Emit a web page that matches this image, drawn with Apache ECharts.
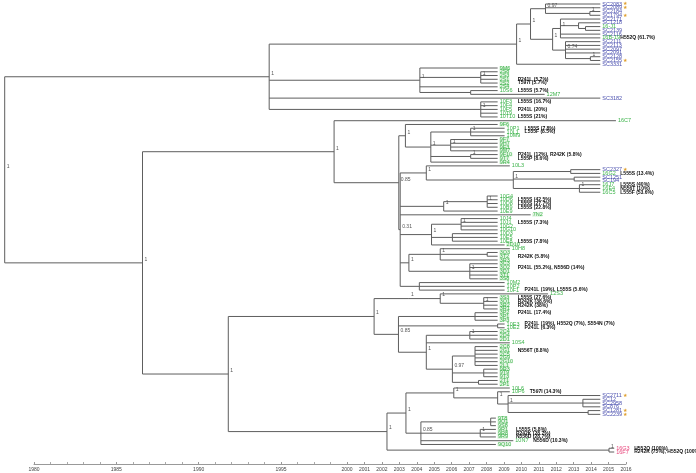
<!DOCTYPE html>
<html><head><meta charset="utf-8">
<script src="https://cdn.jsdelivr.net/npm/echarts@6/dist/echarts.min.js"></script>
<style>html,body{margin:0;padding:0;background:#fff}#c{width:696px;height:473px}</style>
</head><body><div id="c"></div>
<script>
// ---- DATA ----
// Newick-like tree: tip@year, (children)@nodeYear#support
const treeNewick =
"(" +
 "(" +
  "(" +
   "(" +
    "(SC2083@2014.5,SC2089@2014.5,(SC2184@2014.5,SC1794@2014.5)@2013.9#1)@2011.35#0.97," +
    "((SC2171@2014.5,(SC1218@2014.5,(16-J1@2014.5,SC2139@2014.5)@2013.65)@2013.25,SC2116@2014.5,16B-19@2014.5)@2012.21#1," +
     "(SC2111@2014.5,SC2113@2014.5,SC2097@2014.5,SC2091@2014.5,(SC2128@2014.5,SC2155@2014.5)@2013.93#1)@2012.5#0.74)@2011.76#1" +
   ")@2010.49#1," +
   "SC3331@2014.5" +
  ")@2009.69#1," +
  "(9M6@2008.6,(2S8@2008.6,2S3@2008.6,2S1@2008.6,2S2@2008.6)@2007.63#1,2S4@2008.6,(10S6@2008.6,12M7@2011.3)@2007.05)@2004.13#1," +
  "SC3182@2014.5," +
  "(10F3@2008.6,10F4@2008.6,10F5@2008.6,10T9@2008.6,10T10@2008.6)@2007.63#1" +
 ")@1995.47#1," +
 "(" +
  "(16C7@2015.4," +
   "(" +
    "(9F6@2008.6,((10P1@2009.0,10L1@2009.0,10M9@2009.0)@2007.05#1,(9F7@2008.6,9H7@2008.6,9E3@2008.6,9M7@2008.6)@2005.9#1,(9F10@2008.6,9T7@2008.6)@2007.05#1,9R4@2008.6)@2004.76#1)@2003.3#1," +
    "(" +
     "(10L3@2009.3,((SC2327@2014.5,16G2@2014.5)@2012.8,(SC1251@2014.5,SC194@2014.5)@2013.0,(16J7@2014.5,16E4@2014.5,16C5@2014.5)@2013.3#1)@2009.5#1)@2004.5#1," +
     "((10G4@2008.6,10D6@2008.6,10D8@2008.6,10B9@2008.6)@2008.0#1,10E9@2008.6)@2005.5#1," +
     "7N2@2010.5," +
     "((10J4@2008.6,10J1@2008.6,10G2@2008.6,10G10@2008.6)@2006.5#1,(10D3@2008.6,10E5@2008.6,10E8@2008.6)@2006.0,2D10@2009.0)@2004.8#1," +
     "((10H8@2009.3,(3Q3@2008.6,3T2@2008.6)@2008.0,3R3@2008.6)@2005.3#1,(3C3@2008.6,3Q2@2008.6,3D1@2008.6,3T1@2008.6,3S8@2008.6)@2007.0#1)@2003.5#1," +
     "(10M2@2009.0,10P2@2009.0,10F1@2009.0)@2004.1" +
    ")@2003.0#0.31" +
   ")@2002.92#0.85" +
  ")@1999.2#1," +
  "(" +
   "(" +
    "((12S3@2011.5,(3S3@2008.6,3Q1@2008.6,3R2@2008.6,3R1@2008.6)@2007.8#1)@2005.3#1)@2003.5#1," +
    "((3P2@2008.6,3P1@2008.6,3P3@2008.6)@2007.3,(10E3@2009.0,10E2@2009.0)@2008.6,((2C4@2008.6,2D4@2008.6,2D1@2008.6)@2007.0#1,10S4@2009.3,((2C8@2008.6,2G1@2008.6,2C5@2008.6,2G9@2008.6,2G10@2008.6,2L1@2008.6)@2007.3,(9R3@2008.6,9T9@2008.6,9T3@2008.6)@2007.8,(2T1@2008.6,2P1@2008.6)@2007.5)@2006.0#0.97)@2004.5#1)@2002.9#0.85" +
   ")@2001.5#1," +
   "(" +
    "((10L6@2009.3,(10P6@2009.3,(SC2711@2014.5,(SC12@2014.5,SC2958@2014.5,SC876@2014.5)@2013.5,(SC1281@2014.5,SC2239@2014.5)@2013.8)@2009.2#1)@2008.6#1)@2006.08#1," +
    "((9T8@2008.5,9Q1@2008.5,9S8@2008.5)@2008.2,(9R1@2008.5,9R8@2008.5,9R9@2008.5)@2007.6#1,10N7@2009.5,9Q10@2008.5)@2004.19#0.85)@2003.33#1," +
    "(16G3@2015.3,16F7@2015.3)@2015.0#1" +
   ")@2002.24#1" +
  ")@1993.12#1" +
 ")@1988.19#1" +
")@1980.27#1";

const redTips = ['16G3', '16F7'];
const starTips = ['SC2083', 'SC2089', 'SC1794', 'SC2155', 'SC2327', 'SC2711', 'SC1281', 'SC2239'];
const noteTips = ['16B-19', '2S1', '2S2', '10S6', '10F3', '10F5', '10T10', '10P1', '10L1', '9F10', '9T7',
  '16G2', '16J7', '16E4', '16C5', '10D6', '10D8', '10B9', '10J1', '10E8', '3T2', '3Q2', '10F1',
  '3S3', '3Q1', '3R2', '3P2', '10E3', '10E2', '2G1', '10P6', '9R1', '9R8', '9R9', '10N7', '16G3', '16F7'];
const noteTexts = ['H552Q (61.7%)', 'P241L (5.7%)', 'T597I (5.7%)', 'L555S (5.7%)', 'L555S (16.7%)', 'P241L (20%)', 'L555S (21%)',
  'L555S (7.8%)', 'L555F (8.5%)', 'P241L (12%), R242K (5.8%)', 'L555P (8.6%)',
  'L555S (13.4%)', 'L555S (40%)', 'N556T (10%)', 'L555F (53.6%)', 'L555S (42.5%)', 'L555S (27.7%)', 'L555S (22.8%)',
  'L555S (7.3%)', 'L555S (7.8%)', 'R242K (5.8%)', 'P241L (55.2%), N556D (14%)', 'P241L (19%), L555S (5.6%)',
  'L555S (27.6%)', 'R242K (38.6%)', 'R242K (38%)', 'P241L (17.4%)', 'P241L (19%), H552Q (7%), S554N (7%)', 'P241L (6.3%)',
  'N556T (8.8%)', 'T597I (14.3%)', 'L555S (5.8%)', 'R242K (28.7%)', 'N556D (28.7%)', 'N556D (10.3%)', 'H552Q (100%)', 'R242K (75%), H552Q (100%)'];
// time-scale bar pieces: [min, max, major step, minor splits, show labels]
const axisPieceA = [1980, 1995, 5, 5, true];
const axisPieceB = [1995, 2000, 5, 4, false];
const axisPieceC = [2000, 2016, 1, 1, true];

// ---- PARSE & LAYOUT ----
function parseTree(s) {
  let i = 0;
  function node() {
    if (s[i] === '(') {
      i++;
      const ch = [node()];
      while (s[i] === ',') { i++; ch.push(node()); }
      i++;
      const m = s.slice(i).match(/^@([\d.]+)(?:#([\d.]+))?/);
      i += m[0].length;
      return { ch, year: +m[1], sup: m[2] || '' };
    }
    const m = s.slice(i).match(/^([^,()@]+)@([\d.]+)/);
    i += m[0].length;
    return { tip: m[1].trim(), year: +m[2] };
  }
  return node();
}
const root = parseTree(treeNewick);
const leaves = [];
function layout(n) {
  if (n.tip) { n.y = leaves.length; leaves.push(n); return; }
  n.ch.forEach(layout);
  n.y = (n.ch[0].y + n.ch[n.ch.length - 1].y) / 2;
}
layout(root);
const segs = [], supports = [];
function edges(n) {
  if (n.tip) return;
  segs.push([n.year, n.ch[0].y, n.year, n.ch[n.ch.length - 1].y]);
  n.ch.forEach(c => { segs.push([n.year, c.y, c.year, c.y]); edges(c); });
  if (n.sup) supports.push([n.year, n.y, n.sup]);
}
edges(root);
const N = leaves.length;
const tipData = leaves.map(l => [l.year, l.y, l.tip]);

function tipColor(name) {
  if (redTips.includes(name)) return '#e8467c';
  if (name.startsWith('SC')) return '#4a4fae';
  return '#3cb34a';
}
const highlighted = name => /^\d[A-Z]/.test(name);

const chart = echarts.init(document.getElementById('c'), null, { renderer: 'canvas' });
function barAxis(grid, piece) {
  return { gridIndex: grid, type: 'value', min: piece[0], max: piece[1], interval: piece[2],
    axisLine: { lineStyle: { color: '#999', width: 1 } },
    axisTick: { inside: true, length: 2, lineStyle: { color: '#999' } },
    minorTick: { show: piece[3] > 1, splitNumber: piece[3], length: 2, lineStyle: { color: '#aaa' } },
    splitLine: { show: false },
    axisLabel: { show: piece[4], fontSize: 5, color: '#444', margin: 3, fontFamily: 'Liberation Sans',
      formatter: v => String(v) } };
}
chart.setOption({
  animation: false,
  backgroundColor: '#fff',
  grid: [
    { left: 0, right: 0, top: 4, height: 448 },
    { left: 34, width: 247, top: 463, height: 1 },
    { left: 281, width: 66, top: 463, height: 1 },
    { left: 347, width: 279, top: 463, height: 1 }
  ],
  xAxis: [
    { gridIndex: 0, type: 'value', min: 1980, max: 2020, show: false },
    barAxis(1, axisPieceA), barAxis(2, axisPieceB), barAxis(3, axisPieceC)
  ],
  yAxis: [
    { gridIndex: 0, type: 'value', min: 0, max: N - 1, inverse: true, show: false },
    { gridIndex: 1, type: 'value', show: false },
    { gridIndex: 2, type: 'value', show: false },
    { gridIndex: 3, type: 'value', show: false }
  ],
  series: [
    {
      type: 'custom', xAxisIndex: 0, yAxisIndex: 0, data: segs, encode: { x: [0, 2], y: [1, 3] },
      renderItem: (p, api) => {
        const a = api.coord([api.value(0), api.value(1)]);
        const b = api.coord([api.value(2), api.value(3)]);
        return { type: 'line', shape: { x1: a[0], y1: a[1], x2: b[0], y2: b[1] },
          style: { stroke: '#5e5e5e', lineWidth: 1 } };
      }
    },
    {
      type: 'custom', xAxisIndex: 0, yAxisIndex: 0, data: tipData, encode: { x: 0, y: 1 },
      renderItem: (p, api) => {
        const name = tipData[p.dataIndex][2];
        const pt = api.coord([api.value(0), api.value(1)]);
        const w = name.length * 3.1;
        const kids = [];
        if (highlighted(name)) kids.push({ type: 'rect', shape: { x: pt[0] + 1.5, y: pt[1] - 1.9, width: w + 1, height: 3.8 },
          style: { fill: '#e2f4e2' } });
        kids.push({ type: 'text', x: pt[0] + 2, y: pt[1],
          style: { text: name, fill: tipColor(name), font: '5.5px "Liberation Sans", Arial', verticalAlign: 'middle' } });
        if (starTips.includes(name)) kids.push({ type: 'text', x: pt[0] + 4 + w, y: pt[1],
          style: { text: '★', fill: '#e0a030', font: '5px "DejaVu Sans"', verticalAlign: 'middle' } });
        const ni = noteTips.indexOf(name);
        if (ni >= 0) kids.push({ type: 'text', x: pt[0] + 20, y: pt[1],
          style: { text: noteTexts[ni], fill: '#111', font: 'bold 5px "Liberation Sans", Arial', verticalAlign: 'middle' } });
        return { type: 'group', children: kids };
      }
    },
    {
      type: 'custom', xAxisIndex: 0, yAxisIndex: 0, data: supports, encode: { x: 0, y: 1 },
      renderItem: (p, api) => {
        const pt = api.coord([api.value(0), api.value(1)]);
        return { type: 'text', x: pt[0] + 2, y: pt[1] - 1,
          style: { text: supports[p.dataIndex][2], fill: '#555', font: '5px "Liberation Sans", Arial', verticalAlign: 'bottom' } };
      }
    }
  ]
});
</script></body></html>
